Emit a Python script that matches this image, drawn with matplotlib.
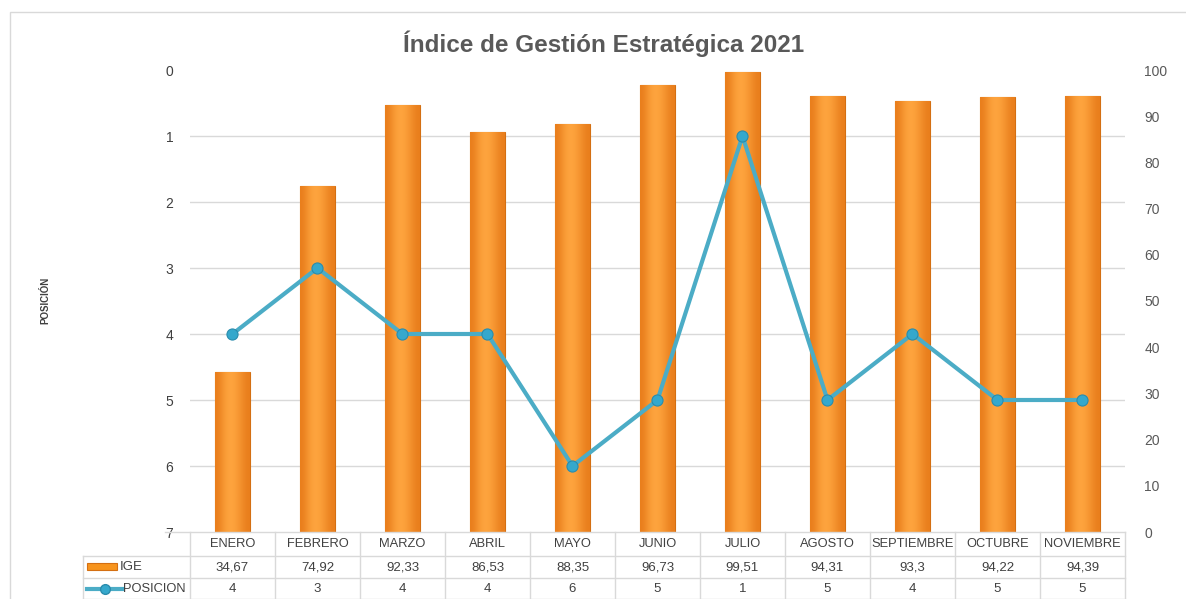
"""Indice de Gestion Estrategica 2021 - IGE bars + posicion line with data table."""
import matplotlib.pyplot as plt
import matplotlib.transforms as mtransforms
from matplotlib.patches import Rectangle
from matplotlib.lines import Line2D
from matplotlib.colors import LinearSegmentedColormap
import numpy as np

plt.rcParams['font.family'] = ['Liberation Sans', 'DejaVu Sans']

meses = ['ENERO', 'FEBRERO', 'MARZO', 'ABRIL', 'MAYO', 'JUNIO', 'JULIO',
         'AGOSTO', 'SEPTIEMBRE', 'OCTUBRE', 'NOVIEMBRE']
ige = [34.67, 74.92, 92.33, 86.53, 88.35, 96.73, 99.51, 94.31, 93.3, 94.22, 94.39]
ige_txt = ['34,67', '74,92', '92,33', '86,53', '88,35', '96,73', '99,51',
           '94,31', '93,3', '94,22', '94,39']
posicion = [4, 3, 4, 4, 6, 5, 1, 5, 4, 5, 5]

orange = '#F7941D'
orange_dark = '#D46F12'
teal = '#4BACC6'
grid_c = '#D9D9D9'
txt_c = '#404040'

W, H = 1186, 599
fig = plt.figure(figsize=(W / 100, H / 100), dpi=100)

def fx(px):
    return px / W

def fy(py):
    return 1 - py / H

# outer frame
fig.patches.append(Rectangle((fx(10), fy(605)), fx(1190) - fx(10), fy(12) - fy(605),
                             transform=fig.transFigure, fill=False, ec='#D9D9D9', lw=1))

ax = fig.add_axes([fx(190), fy(532), fx(1125) - fx(190), fy(70) - fy(532)])
ax2 = ax.twinx()

x = np.arange(len(meses))

# bars (IGE) on the bottom axis, right scale 0-100
bars = ax.bar(x, ige, width=0.41, color=orange, edgecolor=orange_dark, lw=0.8, zorder=3)
grad = np.array([[0.0, 0.45, 0.7, 0.6, 0.3, 0.0]])
cmap = LinearSegmentedColormap.from_list('o', ['#E97E1C', '#FFA640'])
for b in bars:
    im = ax.imshow(grad, cmap=cmap, aspect='auto', interpolation='bicubic',
                   extent=[b.get_x(), b.get_x() + b.get_width(), 0, b.get_height()], zorder=3)
    im.set_clip_path(b)
ax.set_xlim(-0.5, len(meses) - 0.5)
ax.set_ylim(0, 100)

# gridlines belong to the left (posicion) scale but sit behind the bars
trans = mtransforms.blended_transform_factory(ax.transAxes, ax2.transData)
for p in range(1, 7):
    ax.plot([0, 1], [p, p], transform=trans, color=grid_c, lw=1, zorder=1)

ax.yaxis.tick_right()
ax.set_yticks(range(0, 101, 10))
ax.tick_params(axis='y', length=0, pad=14, labelsize=10, labelcolor='#595959')
ax.set_xticks([])

# line (posicion) on top axis, inverted left scale 0-7
ax2.set_ylim(7, 0)
ax2.yaxis.tick_left()
ax2.set_yticks(range(0, 8))
ax2.tick_params(axis='y', length=0, pad=12, labelsize=10, labelcolor='#404040')
ax2.plot(x, posicion, color=teal, lw=3, marker='o', ms=8,
         mfc='#35A8CC', mec='#2A8CAD', mew=0.8, zorder=5)

ax.set_zorder(1)
ax2.set_zorder(2)
ax2.patch.set_visible(False)
for a in (ax, ax2):
    for s in a.spines.values():
        s.set_visible(False)

# title and axis label
fig.text(fx(604), fy(44), 'Índice de Gestión Estratégica 2021', ha='center', va='center',
         fontsize=17.5, fontweight='bold', color='#595959')
fig.text(fx(45), fy(300), 'POSICIÓN', rotation=90, ha='center', va='center',
         fontsize=7, fontweight='bold', color='#404040')

# data table under the plot
tx = mtransforms.blended_transform_factory(ax.transData, fig.transFigure)
rows_y = [fy(532), fy(556), fy(578), fy(599)]
lkw = dict(color=grid_c, lw=1, clip_on=False)
fig.lines.append(Line2D([fx(165), fx(1125)], [rows_y[0]] * 2, transform=fig.transFigure, **lkw))
for yy in rows_y[1:]:
    fig.lines.append(Line2D([fx(83), fx(1125)], [yy] * 2, transform=fig.transFigure, **lkw))
for b in np.arange(-0.5, len(meses) + 0.5, 1.0):
    fig.lines.append(Line2D([b, b], [rows_y[0], rows_y[3]], transform=tx, **lkw))
fig.lines.append(Line2D([fx(83)] * 2, [rows_y[1], rows_y[3]], transform=fig.transFigure, **lkw))

for i in range(len(meses)):
    fig.text(x[i], fy(544), meses[i], transform=tx, ha='center', va='center', fontsize=9.3, color=txt_c)
    fig.text(x[i], fy(567), ige_txt[i], transform=tx, ha='center', va='center', fontsize=9.5, color=txt_c)
    fig.text(x[i], fy(589), str(posicion[i]), transform=tx, ha='center', va='center', fontsize=9.5, color=txt_c)

# legend keys inside the table
fig.patches.append(Rectangle((fx(87), fy(570)), fx(30), fy(563) - fy(570), transform=fig.transFigure,
                             fc=orange, ec=orange_dark, lw=0.8))
fig.text(fx(120), fy(567), 'IGE', ha='left', va='center', fontsize=9.5, color=txt_c)
fig.lines.append(Line2D([fx(87), fx(104.5), fx(122)], [fy(589)] * 3, transform=fig.transFigure,
                        color=teal, lw=3, marker='o', markevery=[1], ms=7,
                        mfc='#35A8CC', mec='#2A8CAD'))
fig.text(fx(123), fy(589), 'POSICION', ha='left', va='center', fontsize=9.3, color=txt_c)

plt.savefig('out.png', dpi=100)
